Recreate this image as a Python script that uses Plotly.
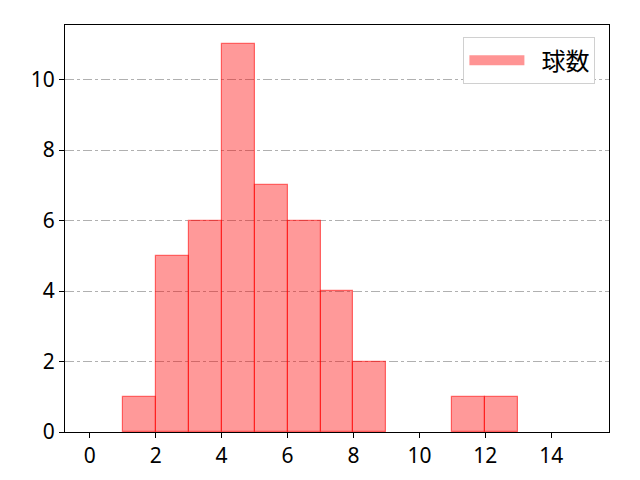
import plotly.graph_objects as go

# bin left edges (width 1) and counts
bin_left = [0, 1, 2, 3, 4, 5, 6, 7, 8, 9, 10, 11, 12, 13, 14]
counts = [0, 1, 5, 6, 11, 7, 6, 4, 2, 0, 0, 1, 1, 0, 0]
x_ticks = [0, 2, 4, 6, 8, 10, 12, 14]
y_ticks = [0, 2, 4, 6, 8, 10]

FONT = "Noto Sans, Noto Sans CJK JP, sans-serif"

# no outline for empty bins
edge_widths = [1.2 if c > 0 else 0 for c in counts]

fig = go.Figure()
fig.add_trace(go.Bar(
    x=bin_left, y=counts, width=1, offset=0, name="球数",
    marker=dict(color="rgba(255,0,0,0.4)",
                line=dict(color="rgba(255,0,0,0.55)", width=edge_widths)),
    showlegend=False, legendgroup="p",
))
# legend entry only: wide patch like matplotlib
fig.add_trace(go.Scatter(
    x=[None], y=[None], mode="lines", name="\u2002球数", legendgroup="p",
    line=dict(color="rgba(255,0,0,0.42)", width=19),
))

axis_common = dict(
    showline=True, linecolor="black", linewidth=1, mirror=True,
    ticks="outside", ticklen=5, tickcolor="black", automargin=False,
    tickfont=dict(size=21, color="black", family=FONT), zeroline=False,
)

# page body adds an 8px offset, margins compensate for it
fig.update_layout(
    width=640, height=480,
    margin=dict(l=57, r=39, t=17, b=56),
    paper_bgcolor="white", plot_bgcolor="white",
    font=dict(family=FONT, color="black"),
    bargap=0,
    xaxis=dict(range=[-0.75, 15.75], tickvals=x_ticks, showgrid=False, **axis_common),
    yaxis=dict(range=[0, 11.55], tickvals=y_ticks, showgrid=True,
               gridcolor="#b0b0b0", gridwidth=0.8, griddash="dashdot", **axis_common),
    legend=dict(x=0.975, y=0.97, xanchor="right", yanchor="top",
                bgcolor="white", bordercolor="#d0d0d0", borderwidth=1,
                itemwidth=55,
                font=dict(size=24, family="Noto Sans CJK JP")),
)

fig.write_html("out.html")
